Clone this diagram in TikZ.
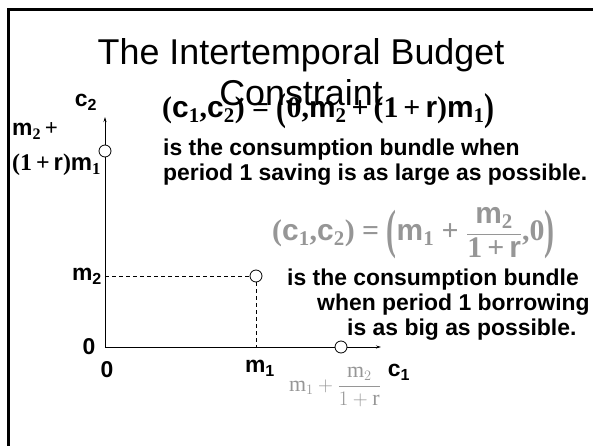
\documentclass[tikz,border=0pt]{standalone}
\usepackage{amsmath}
\usepackage{graphicx}
\usepackage{fontspec}
\setmainfont{Liberation Serif}
\setsansfont{Liberation Sans}
\usetikzlibrary{arrows.meta}
\definecolor{formgray}{RGB}{150,150,150}
% formula pieces: sans bold letters, serif bold digits and brackets
\newcommand{\svar}[1]{\textsf{\bfseries #1}}
\newcommand{\snum}[1]{\textrm{\bfseries #1}}
\newcommand{\idx}[1]{\textsubscript{\rmfamily\bfseries #1}}
\newcommand{\tallp}[2]{\ensuremath{\vcenter{\hbox{\scalebox{1}[#1]{\snum{#2}}}}}}

\begin{document}
\begin{tikzpicture}[
    x=1bp, y=-1bp,
    every node/.style={inner sep=0pt, font=\sffamily\bfseries\fontsize{23}{25}\selectfont},
    formula/.style={font=\fontsize{30}{34}\selectfont},
    dot/.style={circle, draw, fill=white, minimum size=12bp, line width=0.8bp},
    axis/.style={line width=0.8bp, -{Stealth[length=5bp, width=3bp]}},
    guide/.style={line width=0.8bp, dash pattern=on 4bp off 3bp}
  ]
    \useasboundingbox (0,0) rectangle (593,446);
    \draw[line width=3bp] (8,446) -- (8,10) -- (593,10);

    \node[font=\sffamily\fontsize{36}{41}\selectfont, align=center] (title) at (301,72) {The Intertemporal Budget\\Constraint};

    % axes
    \coordinate (O) at (105,347);
    \coordinate (ytip) at (105,117);
    \coordinate (xtip) at (381,347);
    \draw[axis] (O) -- (ytip);
    \draw[axis] (O) -- (xtip);

    \coordinate (m2pt) at (105,276);
    \coordinate (m1pt) at (256,347);
    \node[dot] (endow) at (256,276) {};
    \draw[guide] (m2pt) -- (endow);
    \draw[guide] (endow) -- (m1pt);
    \node[dot] (savedot) at (105,151) {};
    \node[dot] (borrowdot) at (341,347) {};

    % axis labels
    \node (c2lab) at (86,102) {c\textsubscript{2}};
    \node (c1lab) at (399,372) {c\textsubscript{1}};
    \node (zeroy) at (89,347) {0};
    \node (zerox) at (107,370) {0};
    \node (m2lab) at (87,276) {m\textsubscript{2}};
    \node (m1lab) at (260,368) {m\textsubscript{1}};
    \node[anchor=west, font=\fontsize{23}{25}\selectfont] (ymaxA) at (12,131) {\svar{m}\idx{2}\snum{\,+}};
    \node[anchor=west, font=\fontsize{24}{25}\selectfont] (ymaxB) at (12,165) {\snum{(1\,+\,}\svar{r}\snum{)}\svar{m}\idx{1}};
    \node[text=formgray, font=\fontsize{22}{24}\selectfont] (xmax) at (335,387) {$\mathrm{m}_1+\dfrac{\mathrm{m}_2}{1+\mathrm{r}}$};

    % saving end
    \node[anchor=west, formula] (saveform) at (162,111) {\snum{(}\svar{c}\idx{1}\snum{,}\svar{c}\idx{2}\snum{)\ =\ }\tallp{1.3}{(}\snum{0,}\svar{m}\idx{2}\snum{\,+\,(1\,+\,}\svar{r}\snum{)}\svar{m}\idx{1}\tallp{1.3}{)}};
    \node[anchor=west, align=left] (savetext) at (163,162) {is the consumption bundle when\\period 1 saving is as large as possible.};

    % borrowing end
    \node[anchor=west, formula, text=formgray] (borrowform) at (272,233) {$\text{\snum{(}\svar{c}\idx{1}\snum{,}\svar{c}\idx{2}\snum{)\ =\ }}\tallp{1.8}{(}\text{\svar{m}\idx{1}\snum{\ +\ }}\dfrac{\text{\svar{m}\idx{2}}}{\text{\snum{1\,+\,}\svar{r}}}\text{\snum{,0}}\tallp{1.8}{)}$};
    \node[anchor=west, align=left] (borrowtext) at (287,305) {is the consumption bundle\\\hspace{30bp}when period 1 borrowing\\\hspace{60bp}is as big as possible.};
\end{tikzpicture}
\end{document}
